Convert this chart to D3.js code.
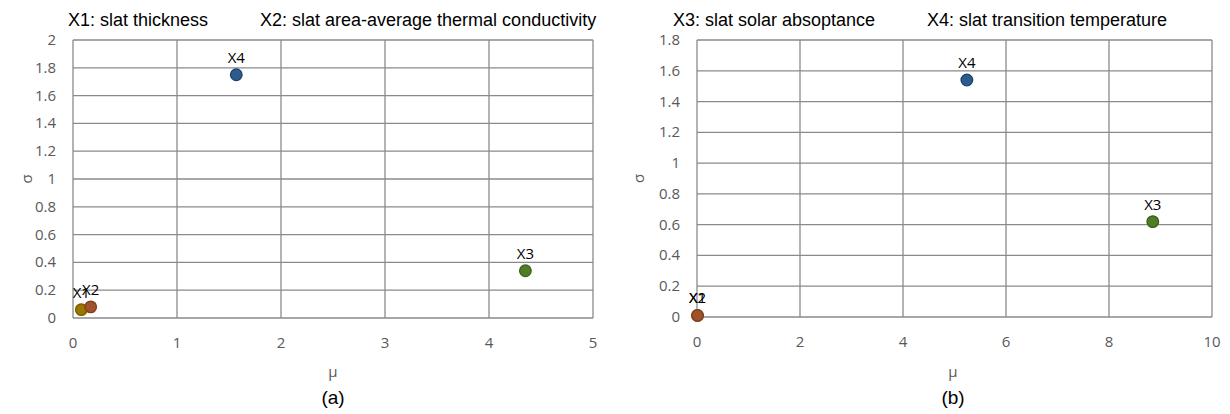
<!DOCTYPE html>
<html>
<head>
<meta charset="utf-8">
<script src="https://cdn.jsdelivr.net/npm/d3@7"></script>
<style>
  html, body { margin: 0; padding: 0; background: #fff; }
  svg { display: block; }
  .tick-label { font-family: "Open Sans", "Liberation Sans", sans-serif; font-size: 15px; fill: #595959; }
  .title { font-family: "Liberation Sans", Arial, sans-serif; font-size: 18px; fill: #000; }
  .axis-name { font-family: "Open Sans", "Liberation Sans", sans-serif; font-size: 15px; fill: #595959; }
  .point-label { font-family: "Open Sans", "Liberation Sans", sans-serif; font-size: 15px; fill: #000; }
  .panel-tag { font-family: "Liberation Sans", Arial, sans-serif; font-size: 19px; fill: #000; }
</style>
</head>
<body>
<svg id="chart" width="1230" height="414"></svg>
<script>
// Morris screening results: mean (mu) and standard deviation (sigma) of elementary effects
const params = ["X1", "X2", "X3", "X4"];
const colors = ["#9a7600", "#a0522d", "#4f7d24", "#2c5c8c"];
const strokes = ["#7a5c00", "#7f3f1a", "#3a5f18", "#1d4068"];

// panel (a)
const muA = [0.08, 0.17, 4.35, 1.57];
const sigmaA = [0.06, 0.08, 0.34, 1.75];
const xTicksA = [0, 1, 2, 3, 4, 5];
const yTicksA = [0, 0.2, 0.4, 0.6, 0.8, 1, 1.2, 1.4, 1.6, 1.8, 2];
const titlesA = ["X1: slat thickness", "X2: slat area-average thermal conductivity"];

// panel (b)
const muB = [0.01, 0.01, 8.85, 5.24];
const sigmaB = [0.01, 0.01, 0.62, 1.54];
const xTicksB = [0, 2, 4, 6, 8, 10];
const yTicksB = [0, 0.2, 0.4, 0.6, 0.8, 1, 1.2, 1.4, 1.6, 1.8];
const titlesB = ["X3: slat solar absoptance", "X4: slat transition temperature"];

const svg = d3.select("#chart");
const fmt = d3.format("~g");

function drawPanel(cfg) {
  const g = svg.append("g");
  const x = d3.scaleLinear().domain(d3.extent(cfg.xTicks)).range([cfg.left, cfg.right]);
  const y = d3.scaleLinear().domain(d3.extent(cfg.yTicks)).range([cfg.bottom, cfg.top]);

  // grid
  g.append("g").selectAll("line").data(cfg.xTicks).join("line")
    .attr("x1", d => x(d)).attr("x2", d => x(d))
    .attr("y1", cfg.top).attr("y2", cfg.bottom)
    .attr("stroke", "#8a8a8a").attr("stroke-width", 1.3);
  g.append("g").selectAll("line").data(cfg.yTicks).join("line")
    .attr("x1", cfg.left).attr("x2", cfg.right)
    .attr("y1", d => y(d)).attr("y2", d => y(d))
    .attr("stroke", "#8a8a8a").attr("stroke-width", 1.3);

  // tick labels
  g.append("g").selectAll("text").data(cfg.xTicks).join("text")
    .attr("class", "tick-label")
    .attr("x", d => x(d)).attr("y", cfg.bottom + 30)
    .attr("text-anchor", "middle")
    .text(d => fmt(d));
  g.append("g").selectAll("text").data(cfg.yTicks).join("text")
    .attr("class", "tick-label")
    .attr("x", cfg.left - 17).attr("y", d => y(d) + 5)
    .attr("text-anchor", "end")
    .text(d => fmt(d));

  // axis names
  g.append("text").attr("class", "axis-name")
    .attr("x", cfg.muX).attr("y", 377).attr("text-anchor", "middle").text("μ");
  g.append("text").attr("class", "axis-name")
    .attr("transform", `translate(${cfg.sigmaX},${(cfg.top + cfg.bottom) / 2}) rotate(-90)`)
    .attr("text-anchor", "middle").text("σ");
  g.append("text").attr("class", "panel-tag")
    .attr("x", cfg.muX).attr("y", 404).attr("text-anchor", "middle").text(cfg.tag);

  // titles
  g.selectAll("text.title").data(cfg.titles).join("text")
    .attr("class", "title")
    .attr("x", (d, i) => cfg.titleX[i]).attr("y", 26)
    .text(d => d);

  // points
  const pts = params.map((p, i) => ({ name: p, mu: cfg.mu[i], sigma: cfg.sigma[i], i }));
  g.append("g").selectAll("circle").data(pts).join("circle")
    .attr("cx", d => x(d.mu)).attr("cy", d => y(d.sigma)).attr("r", 5.8)
    .attr("fill", d => colors[d.i]).attr("stroke", d => strokes[d.i]).attr("stroke-width", 1.3);
  g.append("g").selectAll("text").data(pts).join("text")
    .attr("class", "point-label")
    .attr("x", d => x(d.mu)).attr("y", d => y(d.sigma) - 12)
    .attr("text-anchor", "middle")
    .text(d => d.name);
}

drawPanel({
  left: 73, right: 593, top: 40, bottom: 318,
  xTicks: xTicksA, yTicks: yTicksA, mu: muA, sigma: sigmaA,
  titles: titlesA, titleX: [68, 260], muX: 333, sigmaX: 32, tag: "(a)"
});
drawPanel({
  left: 697, right: 1212, top: 40, bottom: 317,
  xTicks: xTicksB, yTicks: yTicksB, mu: muB, sigma: sigmaB,
  titles: titlesB, titleX: [673, 927], muX: 953, sigmaX: 644, tag: "(b)"
});
</script>
</body>
</html>
